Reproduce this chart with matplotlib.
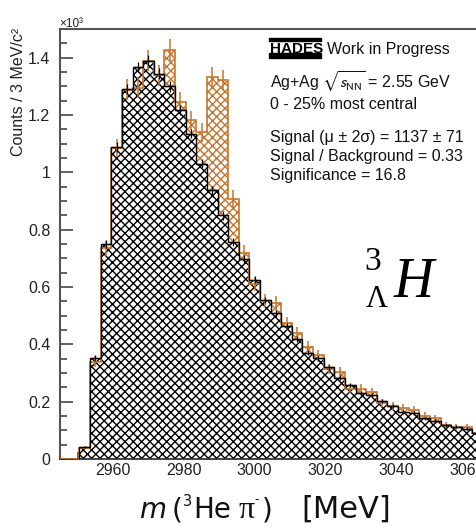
import numpy as np
import matplotlib
matplotlib.use("Agg")
import matplotlib.pyplot as plt
from matplotlib.ticker import MultipleLocator, FuncFormatter
from matplotlib.patches import Rectangle

# ---- data: 3He pi- invariant mass, 3 MeV bins ----
bin_start = 2950.5
bin_width = 3.0
same_event = [40, 340, 735, 1085, 1288, 1295, 1390, 1338, 1427, 1245,
              1181, 1140, 1332, 1322, 908, 720, 610, 552, 545, 473,
              439, 392, 362, 313, 302, 245, 245, 233, 195, 185,
              177, 172, 150, 142, 118, 112, 111, 92]
background = [42, 352, 750, 1088, 1291, 1368, 1390, 1344, 1300, 1216,
              1135, 1030, 937, 850, 757, 697, 626, 555, 508, 465,
              420, 371, 351, 320, 284, 258, 229, 223, 201, 185,
              165, 160, 142, 133, 117, 112, 105, 90]
x_ticks = [2960, 2980, 3000, 3020, 3040, 3060]
info_lines = ["0 - 25% most central",
              "Signal (\u03bc \u00b1 2\u03c3) = 1137 \u00b1 71",
              "Signal / Background = 0.33",
              "Significance = 16.8"]

W, H = 476, 528
ORANGE = "#c8752c"
GREY = "#555555"

plt.rcParams["font.family"] = ["Liberation Sans", "DejaVu Sans"]
plt.rcParams["hatch.linewidth"] = 1.0

fig = plt.figure(figsize=(W / 100, H / 100), dpi=100)

# axes box in pixels (left, top, right, bottom); right edge runs past the canvas
ax_l, ax_t, ax_r, ax_b = 60, 29, 500, 459
ax = fig.add_axes([ax_l / W, 1 - ax_b / H, (ax_r - ax_l) / W, (ax_b - ax_t) / H])
px_per_mev = 3.54
x0 = 2945.0
ax.set_xlim(x0, x0 + (ax_r - ax_l) / px_per_mev)
ax.set_ylim(0, 1500)

sig = np.asarray(same_event, float)
bkg = np.asarray(background, float)
edges = bin_start + bin_width * np.arange(len(sig) + 1)
centers = 0.5 * (edges[:-1] + edges[1:])

# pad with empty bins so the outline runs along the floor from the left edge
pad = 3
sig_p = np.concatenate([np.zeros(pad), sig])
edges_p = np.concatenate([bin_start - bin_width * np.arange(pad, 0, -1), edges])

# hatched fills
ax.stairs(sig_p, edges_p, fill=True, facecolor="white", edgecolor=ORANGE,
          hatch="xxxx", linewidth=0, zorder=1)
ax.stairs(bkg, edges, fill=True, facecolor="white", edgecolor="black",
          hatch="xxxx", linewidth=0, zorder=2)
# outlines
ax.stairs(sig_p, edges_p, fill=False, color=ORANGE, linewidth=1.2, zorder=3)
ax.stairs(bkg, edges, fill=False, color="black", linewidth=1.0, zorder=3.5)
# error bars
ax.errorbar(centers, sig, yerr=np.sqrt(sig), fmt="none", ecolor=ORANGE,
            elinewidth=1.1, capsize=0, zorder=4)
ax.errorbar(centers, bkg, xerr=bin_width / 2, yerr=0.5 * np.sqrt(bkg), fmt="none",
            ecolor="black", elinewidth=0.9, capsize=0, zorder=4.5)

# axes styling
for side in ["left", "top"]:
    ax.spines[side].set_color(GREY)
    ax.spines[side].set_linewidth(1.5)
ax.spines["bottom"].set_color("#333333")
ax.spines["bottom"].set_linewidth(1.3)
ax.spines["right"].set_visible(False)

ax.set_xticks(x_ticks)
ax.xaxis.set_minor_locator(MultipleLocator(10))
ax.yaxis.set_major_locator(MultipleLocator(200))
ax.yaxis.set_minor_locator(MultipleLocator(50))
ax.yaxis.set_major_formatter(FuncFormatter(lambda v, p: f"{v / 1000:g}"))
ax.tick_params(axis="both", which="both", direction="in", colors=GREY,
               labelcolor="#222222", labelsize=11.5, width=1.3)
ax.tick_params(axis="y", which="major", length=9.5, pad=7)
ax.tick_params(axis="y", which="minor", length=5)
ax.tick_params(axis="x", which="major", length=9, pad=3)
ax.tick_params(axis="x", which="minor", length=5)
for t in ax.get_xticklabels() + ax.get_yticklabels():
    t.set_zorder(10)


def ftext(x, y, s, **kw):
    kw.setdefault("va", "baseline")
    kw.setdefault("ha", "left")
    return fig.text(x / W, 1 - y / H, s, **kw)


# y-axis title and exponent
ftext(19, 28, "Counts / 3 MeV/c\u00b2", rotation=90, ha="center", va="top",
      fontsize=11.5, color="#222222")
ftext(59, 27, "\u00d710\u00b3", fontsize=8.5, color="#222222")

# HADES logo
fig.add_artist(Rectangle((269 / W, 1 - 41 / H), 52 / W, 3 / H,
                         transform=fig.transFigure, color="black"))
fig.add_artist(Rectangle((269 / W, 1 - 57.5 / H), 52 / W, 4.5 / H,
                         transform=fig.transFigure, color="black"))
ftext(270, 53, "HADES", fontsize=11, fontweight="bold", color="black")
ftext(327, 54, "Work in Progress", fontsize=11.5, color="#111111")

ftext(270, 88, r"Ag+Ag $\sqrt{s_{\rm NN}}$ = 2.55 GeV", fontsize=11.5,
      color="#111111", math_fontfamily="stixsans")
for y, s in zip([109, 142, 161, 180], info_lines):
    ftext(270, y, s, fontsize=11.5, color="#111111")

# hypertriton symbol
ftext(364, 270, "3", fontsize=24, family="Liberation Serif", color="black")
ftext(366, 307, "\u039b", fontsize=22, family="Liberation Serif", color="black")
ftext(394, 297, "H", fontsize=40, family="Liberation Serif", style="italic",
      color="black")

# x-axis title
label_base = 518
xl_kw = dict(fontsize=20, family="DejaVu Sans", color="#111111")
ftext(139, label_base, "m", style="italic", **xl_kw)
ftext(172, label_base, "(", **xl_kw)
ftext(182.5, 506, "3", fontsize=10.5, family="DejaVu Sans", color="#111111")
ftext(193, label_base, "He", **xl_kw)
ftext(239, label_base, "\u03c0", **dict(xl_kw, family="Liberation Serif", fontsize=23))
ftext(257, 500, "-", fontsize=9, family="DejaVu Sans", color="#111111",
      ha="center", va="center")
ftext(262, label_base, ")", **xl_kw)
ftext(346, label_base, "[MeV]", ha="center", fontsize=22, family="DejaVu Sans",
      color="#111111")

fig.savefig("out.png", dpi=100)
